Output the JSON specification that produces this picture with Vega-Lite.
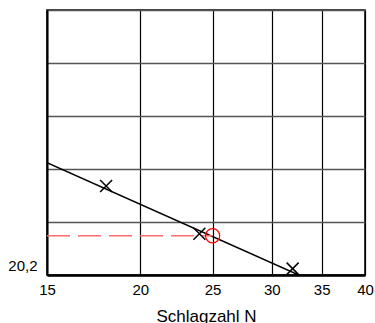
{
  "$schema": "https://vega.github.io/schema/vega-lite/v6.json",
  "width": 318,
  "height": 265,
  "autosize": {"type": "none"},
  "padding": {"left": 47, "top": 10, "right": 10, "bottom": 48},
  "background": "white",
  "config": {
    "font": "Liberation Sans",
    "view": {"stroke": "#000", "strokeWidth": 1.5},
    "axis": {"labelFont": "Liberation Sans", "titleFont": "Liberation Sans", "labelColor": "#000", "titleColor": "#000"}
  },
  "datasets": {
    "points": [
      {"N": 18, "w": 20.64},
      {"N": 24, "w": 20.19},
      {"N": 32, "w": 19.86}
    ],
    "fit": [
      {"N": 15, "w": 20.86},
      {"N": 32.6, "w": 19.8}
    ],
    "ll": [
      {"N": 15, "N2": 25, "w": 20.17}
    ]
  },
  "layer": [
    {
      "data": {"name": "fit"},
      "mark": {"type": "line", "color": "#000", "strokeWidth": 1.5, "clip": true},
      "encoding": {
        "x": {
          "field": "N", "type": "quantitative",
          "scale": {"type": "log", "domain": [15, 40], "nice": false},
          "axis": {
            "values": [15, 20, 25, 30, 35, 40],
            "grid": true, "gridColor": "#000", "gridWidth": 1.2,
            "ticks": false, "labelFontSize": 15, "labelPadding": 7,
            "labelFlush": false,
            "domainColor": "#000", "domainWidth": 2.5,
            "title": "Schlagzahl N", "titleFontSize": 17, "titleFontWeight": "normal",
            "titlePadding": 11
          }
        },
        "y": {
          "field": "w", "type": "quantitative",
          "scale": {"domain": [19.8, 22.3], "zero": false, "nice": false},
          "axis": {
            "values": [19.8, 20.3, 20.8, 21.3, 21.8, 22.3],
            "grid": true, "gridColor": "#555", "gridWidth": 1.5,
            "ticks": false, "domainColor": "#000", "domainWidth": 2,
            "labelExpr": "datum.value == 19.8 ? '20,2' : ''",
            "labelFontSize": 15, "labelPadding": 10,
            "labelBaseline": "alphabetic", "labelOffset": -5,
            "title": null
          }
        }
      }
    },
    {
      "data": {"name": "ll"},
      "mark": {"type": "rule", "color": "#ff6b6b", "strokeWidth": 1.5, "strokeDash": [23, 8]},
      "encoding": {
        "x": {"field": "N", "type": "quantitative"},
        "x2": {"field": "N2"},
        "y": {"field": "w", "type": "quantitative"}
      }
    },
    {
      "data": {"name": "points"},
      "mark": {"type": "point", "shape": "M-1,-1L1,1M-1,1L1,-1", "size": 144, "stroke": "#000", "strokeWidth": 1.5, "opacity": 1, "filled": false},
      "encoding": {
        "x": {"field": "N", "type": "quantitative"},
        "y": {"field": "w", "type": "quantitative"}
      }
    },
    {
      "data": {"name": "ll"},
      "mark": {"type": "point", "shape": "circle", "size": 201, "stroke": "#ff0000", "strokeWidth": 1.2, "opacity": 1, "filled": false},
      "encoding": {
        "x": {"field": "N2", "type": "quantitative"},
        "y": {"field": "w", "type": "quantitative"}
      }
    }
  ]
}
